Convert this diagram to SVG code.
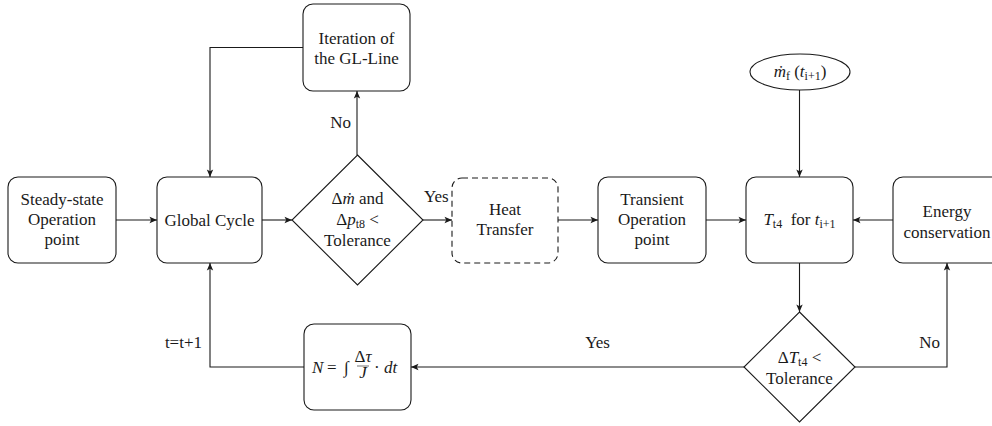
<svg xmlns="http://www.w3.org/2000/svg" width="992" height="426" viewBox="0 0 992 426">
<style>
.n{fill:#fff;stroke:#1a1a1a;stroke-width:1.1}
.d{stroke-dasharray:6 4}
.t{font-family:"Liberation Serif","DejaVu Serif",serif;font-size:17px;fill:#1a1a1a;text-anchor:middle}
.l{font-family:"Liberation Serif","DejaVu Serif",serif;font-size:17px;fill:#1a1a1a}
.i{font-style:italic}
.c{fill:none;stroke:#1a1a1a;stroke-width:1.1;marker-end:url(#ah)}
</style>
<defs>
<marker id="ah" markerUnits="userSpaceOnUse" viewBox="-8 -4 9 8" refX="0" refY="0" markerWidth="9" markerHeight="8" orient="auto">
<path d="M-7.5,-3.2 L0,0 L-7.5,3.2 L-5.8,0 Z" fill="#1a1a1a"/>
</marker>
</defs>
<rect width="992" height="426" fill="#fff"/>
<g id="connectors">
<path class="c" d="M116,220 H157"/>
<path class="c" d="M262,220 H292"/>
<path class="c" d="M423,220 H452"/>
<path class="c" d="M558,220 H598"/>
<path class="c" d="M706,220 H746"/>
<path class="c" d="M893,220 H853"/>
<path class="c" d="M357,155 V91"/>
<path class="c" d="M303,47.5 H210 V177"/>
<path class="c" d="M799.5,90 V177"/>
<path class="c" d="M799.5,263 V312"/>
<path class="c" d="M855,367 H947 V263"/>
<path class="c" d="M744,367 H411"/>
<path class="c" d="M304,367 H210 V263"/>
<text class="l" x="424" y="202">Yes</text>
<text class="l" x="351" y="128" text-anchor="end">No</text>
<text class="l" x="940" y="348" text-anchor="end">No</text>
<text class="l" x="597.5" y="348" text-anchor="middle">Yes</text>
<text class="l" x="202" y="348" text-anchor="end">t=t+1</text>
</g>
<g id="steady">
<rect class="n" x="8" y="177" width="108" height="86" rx="10"/>
<text class="t" x="62" y="205">Steady-state</text>
<text class="t" x="62" y="225">Operation</text>
<text class="t" x="62" y="245">point</text>
</g>
<g id="global">
<rect class="n" x="157" y="177" width="105" height="86" rx="10"/>
<text class="t" x="209.5" y="226">Global Cycle</text>
</g>
<g id="decision1">
<polygon class="n" points="357.5,155 423,220 357.5,285 292,220"/>
<text class="t" x="357.5" y="204">Δ<tspan class="i">ṁ</tspan> and</text>
<text class="t" x="357.5" y="225">Δ<tspan class="i">p</tspan><tspan font-size="12" dy="3">t8</tspan><tspan dy="-3">&#160;&lt;</tspan></text>
<text class="t" x="357.5" y="246">Tolerance</text>
</g>
<g id="iteration">
<rect class="n" x="303" y="4" width="107" height="87" rx="10"/>
<text class="t" x="356.5" y="44">Iteration of</text>
<text class="t" x="356.5" y="64">the GL-Line</text>
</g>
<g id="heat">
<rect class="n d" x="452" y="178" width="106" height="85" rx="10"/>
<text class="t" x="505" y="215">Heat</text>
<text class="t" x="505" y="235">Transfer</text>
</g>
<g id="transient">
<rect class="n" x="598" y="177" width="108" height="86" rx="10"/>
<text class="t" x="652" y="205">Transient</text>
<text class="t" x="652" y="225">Operation</text>
<text class="t" x="652" y="245">point</text>
</g>
<g id="tt4">
<rect class="n" x="746" y="177" width="107" height="86" rx="10"/>
<text class="t" x="799.5" y="225"><tspan class="i">T</tspan><tspan font-size="12" dy="3">t4</tspan><tspan dy="-3">&#160;&#160;for&#160;</tspan><tspan class="i">t</tspan><tspan font-size="12" dy="3">i+1</tspan></text>
</g>
<g id="energy">
<rect class="n" x="893" y="177" width="108" height="86" rx="10"/>
<text class="t" x="947" y="217">Energy</text>
<text class="t" x="947" y="238">conservation</text>
</g>
<g id="mdot">
<ellipse class="n" cx="800" cy="72" rx="50" ry="18"/>
<text class="t" x="800" y="77"><tspan class="i">ṁ</tspan><tspan font-size="12" dy="3">f</tspan><tspan dy="-3">&#160;(</tspan><tspan class="i">t</tspan><tspan font-size="12" dy="3">i+1</tspan><tspan dy="-3">)</tspan></text>
</g>
<g id="decision2">
<polygon class="n" points="799.5,312 855,367 799.5,422 744,367"/>
<text class="t" x="799.5" y="363">Δ<tspan class="i">T</tspan><tspan font-size="12" dy="3">t4</tspan><tspan dy="-3">&#160;&lt;</tspan></text>
<text class="t" x="799.5" y="384">Tolerance</text>
</g>
<g id="formula">
<rect class="n" x="304" y="324" width="107" height="86" rx="10"/>
<text class="l i" x="312" y="373">N</text>
<text class="l" x="327" y="373">=</text>
<text class="l" x="344" y="373">∫</text>
<text class="t" font-size="10"><tspan x="363" y="362">Δ<tspan class="i">τ</tspan></tspan><tspan class="i" x="363" y="378">J</tspan></text>
<line x1="357" y1="366" x2="369" y2="366" stroke="#1a1a1a" stroke-width="0.6"/>
<text class="l" x="374" y="373">·</text>
<text class="l i" x="384" y="373">dt</text>
</g>
</svg>
